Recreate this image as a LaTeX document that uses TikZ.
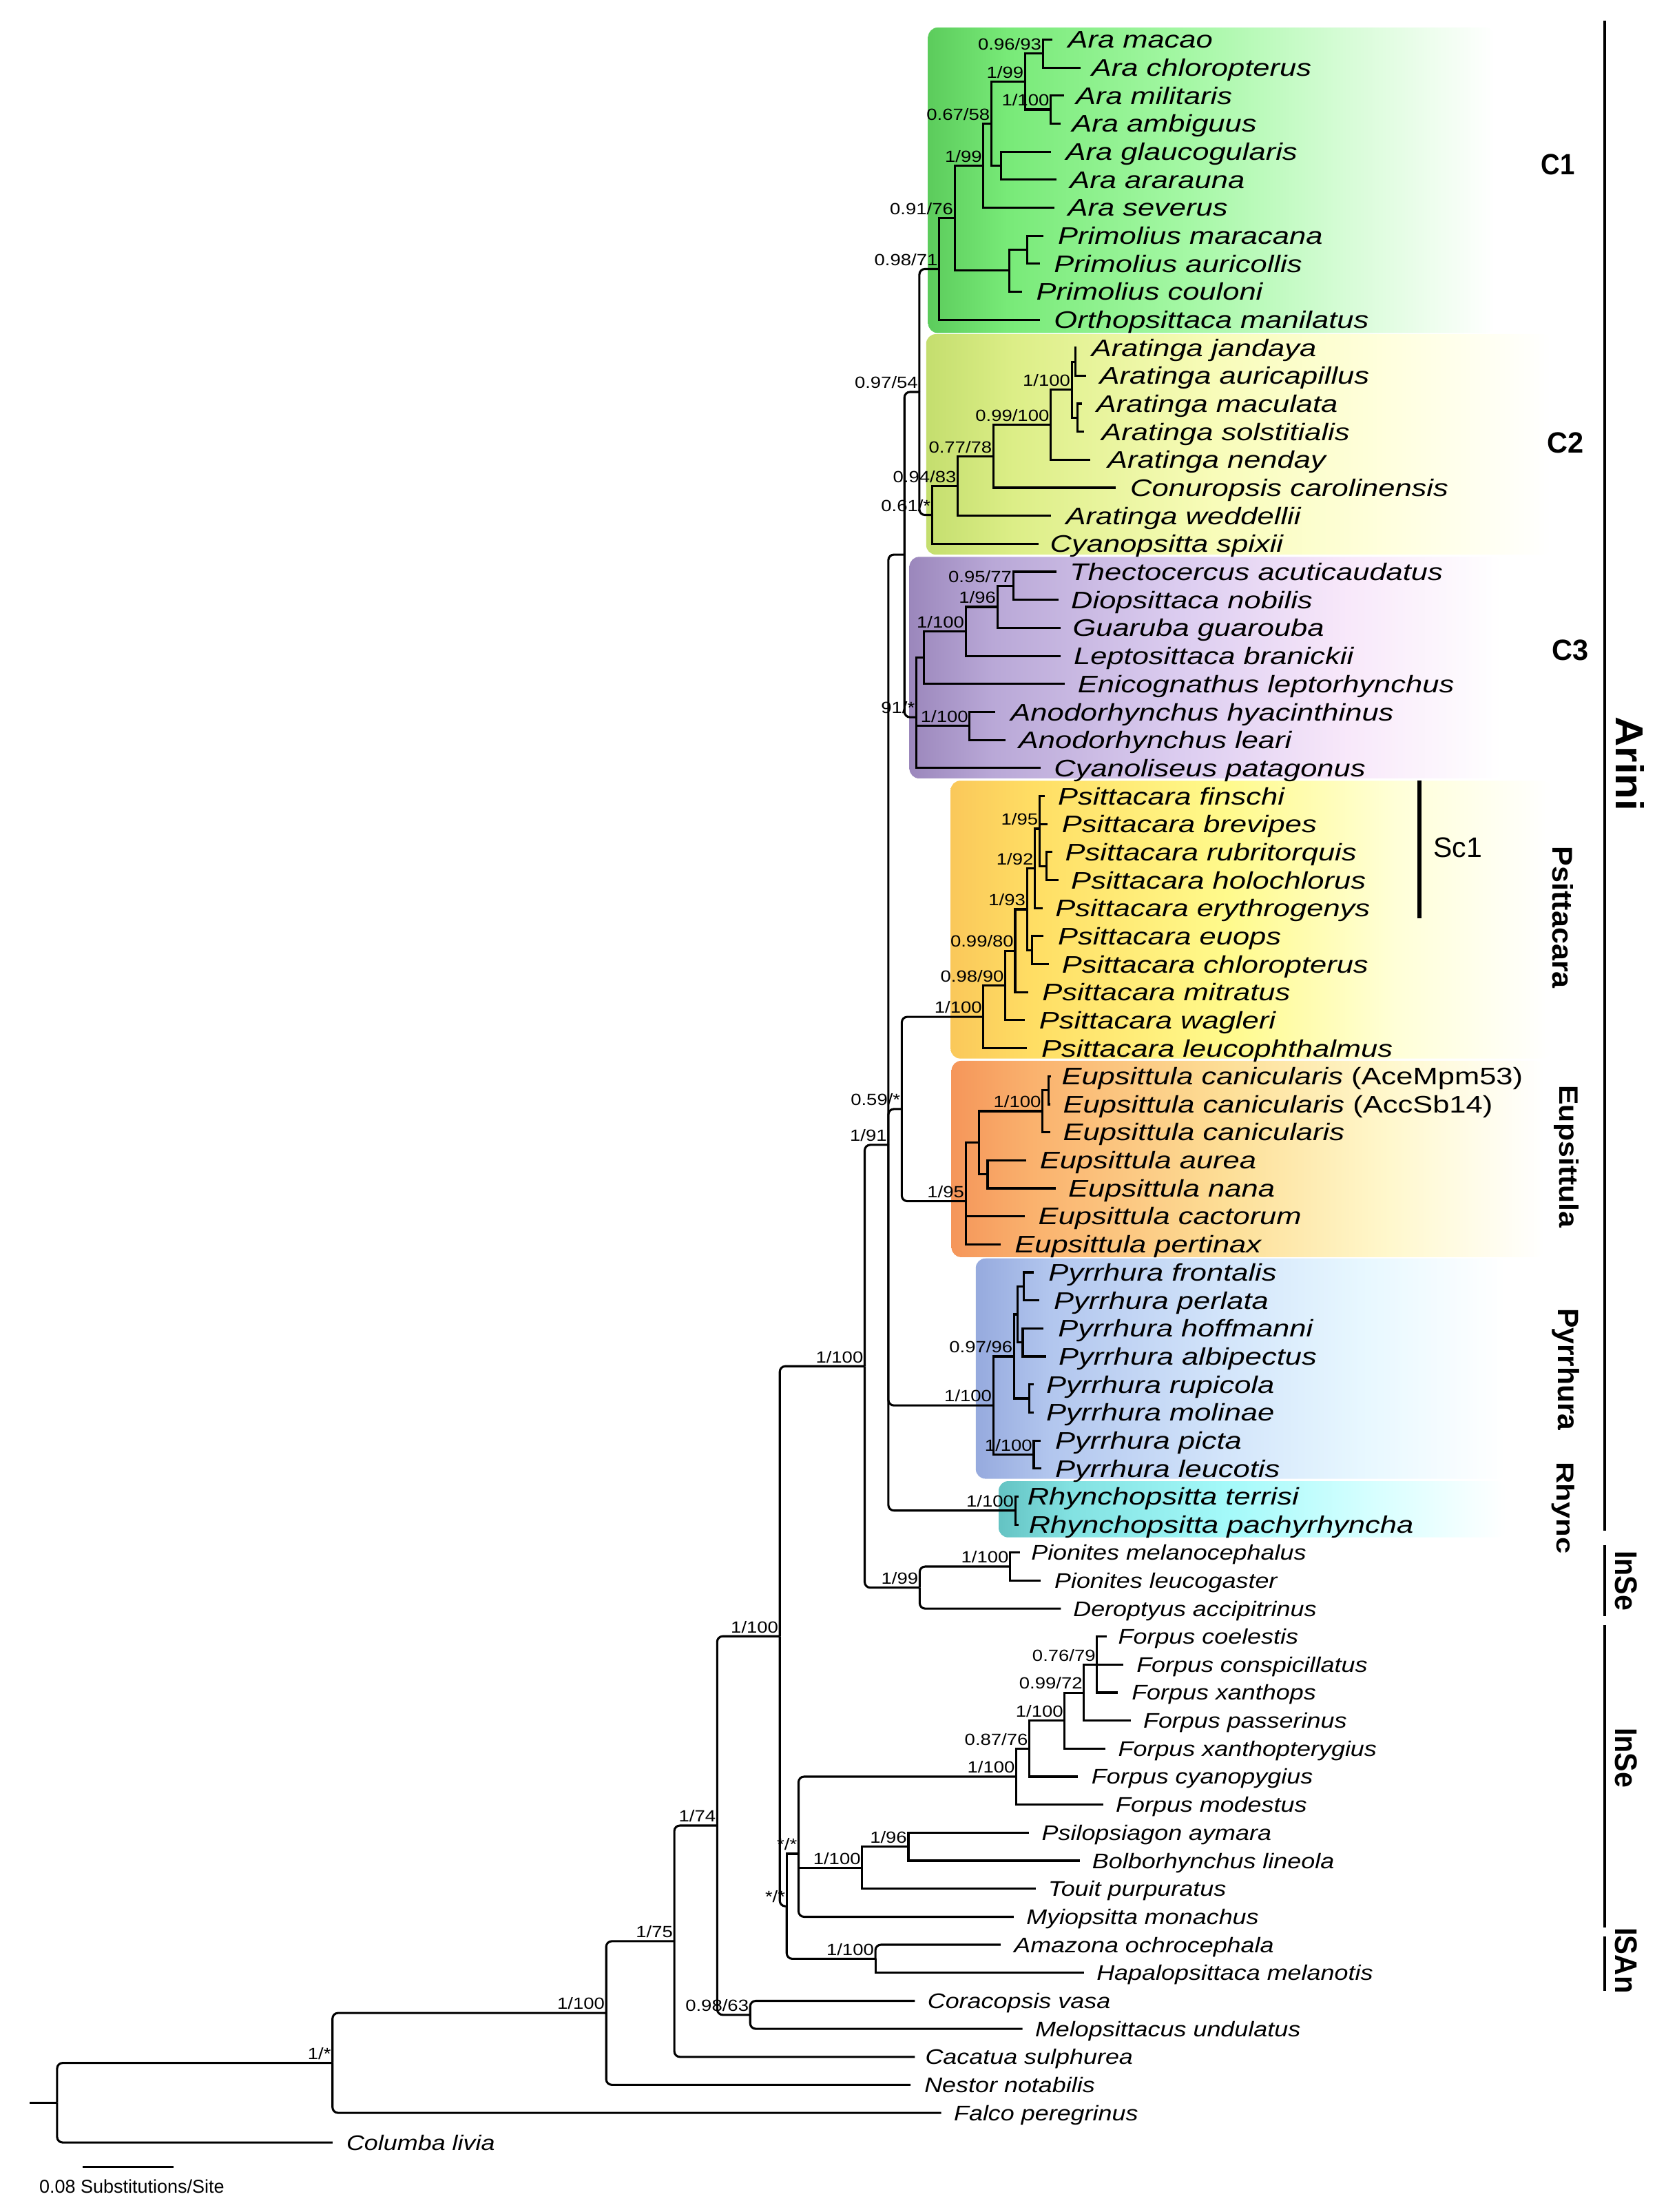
\documentclass[tikz,border=0pt]{standalone}
\usepackage{fontspec}
\usepackage{graphicx}
\newfontfamily\fA[FakeStretch=1.25]{Liberation Sans}
\newfontfamily\fB[FakeStretch=1.17]{Liberation Sans}
\newfontfamily\fC{Liberation Sans}
\definecolor{c1a}{RGB}{92,204,92}\definecolor{c1b}{RGB}{120,234,120}\definecolor{c1c}{RGB}{165,248,165}\definecolor{c1d}{RGB}{215,252,215}
\definecolor{c2a}{RGB}{196,222,110}\definecolor{c2b}{RGB}{220,238,135}\definecolor{c2c}{RGB}{248,252,185}\definecolor{c2d}{RGB}{255,255,222}
\definecolor{c3a}{RGB}{155,135,188}\definecolor{c3b}{RGB}{185,168,215}\definecolor{c3c}{RGB}{220,205,240}\definecolor{c3d}{RGB}{248,232,250}
\definecolor{c4a}{RGB}{250,200,90}\definecolor{c4b}{RGB}{255,222,100}\definecolor{c4c}{RGB}{255,250,140}\definecolor{c4d}{RGB}{255,255,215}
\definecolor{c5a}{RGB}{245,150,90}\definecolor{c5b}{RGB}{250,178,110}\definecolor{c5c}{RGB}{253,222,150}\definecolor{c5d}{RGB}{255,248,205}
\definecolor{c6a}{RGB}{150,170,222}\definecolor{c6b}{RGB}{178,198,238}\definecolor{c6c}{RGB}{210,228,250}\definecolor{c6d}{RGB}{232,248,255}
\definecolor{c7a}{RGB}{100,195,195}\definecolor{c7b}{RGB}{130,225,225}\definecolor{c7c}{RGB}{165,250,250}\definecolor{c7d}{RGB}{215,255,255}
\pgfdeclarehorizontalshading{sC1}{100bp}{color(0bp)=(c1a); color(25bp)=(c1a); color(32bp)=(c1b); color(48bp)=(c1c); color(62bp)=(c1d); color(75bp)=(white); color(100bp)=(white)}
\pgfdeclarehorizontalshading{sC2}{100bp}{color(0bp)=(c2a); color(25bp)=(c2a); color(32bp)=(c2b); color(48bp)=(c2c); color(62bp)=(c2d); color(75bp)=(white); color(100bp)=(white)}
\pgfdeclarehorizontalshading{sC3}{100bp}{color(0bp)=(c3a); color(25bp)=(c3a); color(32bp)=(c3b); color(48bp)=(c3c); color(62bp)=(c3d); color(75bp)=(white); color(100bp)=(white)}
\pgfdeclarehorizontalshading{sC4}{100bp}{color(0bp)=(c4a); color(25bp)=(c4a); color(32bp)=(c4b); color(48bp)=(c4c); color(62bp)=(c4d); color(75bp)=(white); color(100bp)=(white)}
\pgfdeclarehorizontalshading{sC5}{100bp}{color(0bp)=(c5a); color(25bp)=(c5a); color(32bp)=(c5b); color(48bp)=(c5c); color(62bp)=(c5d); color(75bp)=(white); color(100bp)=(white)}
\pgfdeclarehorizontalshading{sC6}{100bp}{color(0bp)=(c6a); color(25bp)=(c6a); color(32bp)=(c6b); color(48bp)=(c6c); color(62bp)=(c6d); color(75bp)=(white); color(100bp)=(white)}
\pgfdeclarehorizontalshading{sC7}{100bp}{color(0bp)=(c7a); color(25bp)=(c7a); color(32bp)=(c7b); color(48bp)=(c7c); color(62bp)=(c7d); color(75bp)=(white); color(100bp)=(white)}
\tikzset{
 brs/.style={line width=3.1pt},
 brc/.style={line width=3.1pt, rounded corners=8pt},
 tA/.style={anchor=west, inner sep=0pt, font=\fA\itshape\fontsize{34.8pt}{40pt}\selectfont, text height=24.9pt, text depth=0pt},
 tB/.style={anchor=west, inner sep=0pt, font=\fB\itshape\fontsize{30.7pt}{36pt}\selectfont, text height=22pt, text depth=0pt},
 sup/.style={anchor=south east, inner sep=0pt, xshift=-2pt, yshift=5pt, font=\fB\fontsize{23.5pt}{28pt}\selectfont, text height=16.8pt, text depth=0pt},
 grp/.style={inner sep=0pt, rotate=-90},
 bar/.style={line width=4.3pt},
 cbox/.style={rounded corners=14pt},
}
\newcommand\taxa[6]{\coordinate (t#1) at (#3,#2); \node[#5] (l#1) at (#4,#2) {#6};}
\newcommand\slab[2]{\node[sup] (L#1) at (#1) {#2};}
\newcommand\bra[2]{\draw[brs] (#1) |- (#2);}
\newcommand\brr[2]{\draw[brc] (#1) |- (#2);}
\begin{document}
\begin{tikzpicture}[x=2.0475pt,y=-2.0475pt]
\fill[white] (0,0) rectangle (1181,1568.3);
\useasboundingbox (0,0) rectangle (1181,1568.3);
% clade boxes
\shade[cbox,shading=sC1] (658.2,19.5) rectangle (1060,236.1);
\shade[cbox,shading=sC2] (656.8,236.9) rectangle (1100,393.2);
\shade[cbox,shading=sC3] (645.0,394.8) rectangle (1065,551.9);
\shade[cbox,shading=sC4] (674.2,553.5) rectangle (1100,750.5);
\shade[cbox,shading=sC5] (674.8,752.1) rectangle (1095,891.3);
\shade[cbox,shading=sC6] (692.0,892.2) rectangle (1068,1048.4);
\shade[cbox,shading=sC7] (708.2,1050.1) rectangle (1068,1090.0);
% taxa
\taxa{1}{28.0}{746.5}{757.2}{tA}{Ara macao}
\taxa{2}{47.9}{766.1}{774.0}{tA}{Ara chloropterus}
\taxa{3}{67.7}{754.4}{762.8}{tA}{Ara militaris}
\taxa{4}{87.6}{752.1}{760.0}{tA}{Ara ambiguus}
\taxa{5}{107.5}{745.1}{755.8}{tA}{Ara glaucogularis}
\taxa{6}{127.3}{749.3}{758.6}{tA}{Ara ararauna}
\taxa{7}{147.2}{747.9}{757.2}{tA}{Ara severus}
\taxa{8}{167.1}{740.1}{750.2}{tA}{Primolius maracana}
\taxa{9}{186.9}{737.3}{747.4}{tA}{Primolius auricollis}
\taxa{10}{206.8}{724.9}{734.8}{tA}{Primolius couloni}
\taxa{11}{226.7}{737.3}{747.4}{tA}{Orthopsittaca manilatus}
\taxa{12}{246.5}{763.3}{774.0}{tA}{Aratinga jandaya}
\taxa{13}{266.4}{770.3}{779.7}{tA}{Aratinga auricapillus}
\taxa{14}{286.2}{767.5}{777.4}{tA}{Aratinga maculata}
\taxa{15}{306.1}{768.9}{781.1}{tA}{Aratinga solstitialis}
\taxa{16}{326.0}{773.1}{785.3}{tA}{Aratinga nenday}
\taxa{17}{345.8}{791.4}{801.5}{tA}{Conuropsis carolinensis}
\taxa{18}{365.7}{745.1}{755.8}{tA}{Aratinga weddellii}
\taxa{19}{385.6}{736.7}{744.6}{tA}{Cyanopsitta spixii}
\taxa{20}{405.4}{749.3}{758.6}{tA}{Thectocercus acuticaudatus}
\taxa{21}{425.3}{750.7}{759.5}{tA}{Diopsittaca nobilis}
\taxa{22}{445.2}{752.1}{760.6}{tA}{Guaruba guarouba}
\taxa{23}{465.0}{752.1}{761.4}{tA}{Leptosittaca branickii}
\taxa{24}{484.9}{754.9}{764.2}{tA}{Enicognathus leptorhynchus}
\taxa{25}{504.8}{705.9}{716.6}{tA}{Anodorhynchus hyacinthinus}
\taxa{26}{524.6}{712.9}{722.2}{tA}{Anodorhynchus leari}
\taxa{27}{544.5}{738.1}{747.4}{tA}{Cyanoliseus patagonus}
\taxa{28}{564.4}{740.9}{750.2}{tA}{Psittacara finschi}
\taxa{29}{584.2}{743.1}{753.0}{tA}{Psittacara brevipes}
\taxa{30}{604.1}{746.5}{755.3}{tA}{Psittacara rubritorquis}
\taxa{31}{624.0}{750.7}{759.5}{tA}{Psittacara holochlorus}
\taxa{32}{643.8}{739.5}{748.3}{tA}{Psittacara erythrogenys}
\taxa{33}{663.7}{740.1}{750.2}{tA}{Psittacara euops}
\taxa{34}{683.6}{743.7}{753.0}{tA}{Psittacara chloropterus}
\taxa{35}{703.4}{729.1}{739.0}{tA}{Psittacara mitratus}
\taxa{36}{723.3}{726.9}{736.8}{tA}{Psittacara wagleri}
\taxa{37}{743.2}{728.3}{738.4}{tA}{Psittacara leucophthalmus}
\taxa{38}{763.0}{745.5}{752.8}{tA}{Eupsittula canicularis {\upshape(AceMpm53)}}
\taxa{39}{782.9}{744.6}{753.8}{tA}{Eupsittula canicularis {\upshape(AccSb14)}}
\taxa{40}{802.7}{744.6}{753.8}{tA}{Eupsittula canicularis}
\taxa{41}{822.6}{727.8}{737.3}{tA}{Eupsittula aurea}
\taxa{42}{842.5}{748.7}{757.5}{tA}{Eupsittula nana}
\taxa{43}{862.3}{726.9}{736.3}{tA}{Eupsittula cactorum}
\taxa{44}{882.2}{709.7}{719.5}{tA}{Eupsittula pertinax}
\taxa{45}{902.1}{733.1}{743.5}{tA}{Pyrrhura frontalis}
\taxa{46}{921.9}{737.1}{747.2}{tA}{Pyrrhura perlata}
\taxa{47}{941.8}{739.9}{750.3}{tA}{Pyrrhura hoffmanni}
\taxa{48}{961.7}{741.8}{750.7}{tA}{Pyrrhura albipectus}
\taxa{49}{981.5}{733.1}{741.9}{tA}{Pyrrhura rupicola}
\taxa{50}{1001.4}{733.1}{741.9}{tA}{Pyrrhura molinae}
\taxa{51}{1021.3}{737.8}{748.2}{tA}{Pyrrhura picta}
\taxa{52}{1041.1}{738.7}{748.2}{tA}{Pyrrhura leucotis}
\taxa{53}{1061.0}{722.2}{728.5}{tA}{Rhynchopsitta terrisi}
\taxa{54}{1080.9}{722.2}{729.5}{tA}{Rhynchopsitta pachyrhyncha}
\taxa{55}{1100.7}{723.2}{731.2}{tB}{Pionites melanocephalus}
\taxa{56}{1120.6}{737.9}{747.7}{tB}{Pionites leucogaster}
\taxa{57}{1140.5}{752.3}{761.0}{tB}{Deroptyus accipitrinus}
\taxa{58}{1160.3}{784.8}{792.9}{tB}{Forpus coelestis}
\taxa{59}{1180.2}{796.8}{805.9}{tB}{Forpus conspicillatus}
\taxa{60}{1200.0}{792.7}{802.5}{tB}{Forpus xanthops}
\taxa{61}{1219.9}{802.0}{810.7}{tB}{Forpus passerinus}
\taxa{62}{1239.8}{783.8}{792.9}{tB}{Forpus xanthopterygius}
\taxa{63}{1259.6}{764.3}{774.0}{tB}{Forpus cyanopygius}
\taxa{64}{1279.5}{782.4}{791.2}{tB}{Forpus modestus}
\taxa{65}{1299.4}{729.8}{738.7}{tB}{Psilopsiagon aymara}
\taxa{66}{1319.2}{765.6}{774.5}{tB}{Bolborhynchus lineola}
\taxa{67}{1339.1}{734.5}{743.3}{tB}{Touit purpuratus}
\taxa{68}{1359.0}{718.9}{727.8}{tB}{Myiopsitta monachus}
\taxa{69}{1378.8}{709.6}{719.0}{tB}{Amazona ochrocephala}
\taxa{70}{1398.7}{768.8}{777.6}{tB}{Hapalopsittaca melanotis}
\taxa{71}{1418.6}{648.8}{657.7}{tB}{Coracopsis vasa}
\taxa{72}{1438.4}{725.1}{734.0}{tB}{Melopsittacus undulatus}
\taxa{73}{1458.3}{648.8}{656.1}{tB}{Cacatua sulphurea}
\taxa{74}{1478.1}{645.7}{655.5}{tB}{Nestor notabilis}
\taxa{75}{1498.0}{667.5}{676.4}{tB}{Falco peregrinus}
\taxa{76}{1519.0}{235.8}{245.6}{tB}{Columba livia}
% internal nodes
\coordinate (a1) at (739.5,37.95);
\coordinate (a2) at (745.1,77.65);
\coordinate (a3) at (726.9,57.8);
\coordinate (a4) at (710.0,117.4);
\coordinate (a5) at (703.0,87.6);
\coordinate (a6) at (697.4,117.4);
\coordinate (a7) at (728.3,177.0);
\coordinate (a8) at (715.7,191.9);
\coordinate (a9) at (677.0,154.65);
\coordinate (a10) at (666.0,190.7);
\coordinate (b1) at (762.8,256.45);
\coordinate (b2) at (764.2,296.15);
\coordinate (b3) at (760.0,276.3);
\coordinate (b4) at (745.1,301.15);
\coordinate (b5) at (704.5,323.5);
\coordinate (b6) at (679.2,344.6);
\coordinate (b7) at (661.0,365.1);
\coordinate (bb1) at (652.0,277.9);
\coordinate (c1) at (718.5,415.35);
\coordinate (c2) at (707.3,430.3);
\coordinate (c3) at (684.8,447.65);
\coordinate (c4) at (655.4,466.3);
\coordinate (c5) at (687.6,514.7);
\coordinate (c6) at (649.8,508.5);
\coordinate (bb2) at (641.4,393.2);
\coordinate (p1) at (742.3,614.05);
\coordinate (p2) at (737.2,587.55);
\coordinate (p3) at (733.9,615.7);
\coordinate (p4) at (731.9,673.65);
\coordinate (p5) at (728.3,644.7);
\coordinate (p6) at (719.9,674.05);
\coordinate (p7) at (712.9,698.7);
\coordinate (p8) at (697.4,720.95);
\coordinate (e1) at (743.4,772.95);
\coordinate (e2) at (739.3,787.8);
\coordinate (e3) at (700.4,832.55);
\coordinate (e4) at (694.2,810.2);
\coordinate (e5) at (684.8,851.6);
\coordinate (G) at (639.5,786.3);
\coordinate (r1) at (726.2,912.0);
\coordinate (r2) at (725.3,951.75);
\coordinate (r3) at (721.6,931.9);
\coordinate (r4) at (730.0,991.45);
\coordinate (r5) at (719.1,961.7);
\coordinate (r6) at (733.1,1031.2);
\coordinate (r7) at (704.4,996.45);
\coordinate (q1) at (720.0,1070.95);
\coordinate (H) at (630.0,811.7);
\coordinate (s1) at (716.3,1110.65);
\coordinate (s2) at (652.2,1125.6);
\coordinate (I) at (613.2,968.65);
\coordinate (f1) at (778.0,1180.2);
\coordinate (f2) at (768.7,1200.05);
\coordinate (f3) at (755.0,1219.9);
\coordinate (f4) at (730.0,1239.75);
\coordinate (f5) at (720.7,1259.6);
\coordinate (g1) at (644.2,1309.3);
\coordinate (g2) at (611.4,1324.2);
\coordinate (K) at (566.3,1314.3);
\coordinate (h1) at (620.8,1388.75);
\coordinate (Lq) at (557.9,1351.5);
\coordinate (J) at (553.0,1160.1);
\coordinate (M) at (532.0,1428.5);
\coordinate (N) at (508.6,1294.3);
\coordinate (U) at (478.2,1376.3);
\coordinate (T) at (429.9,1427.2);
\coordinate (S) at (235.8,1462.6);
\coordinate (R) at (40.5,1490.8);
\coordinate (R0) at (21.2,1490.8);
% branches C1
\bra{a1}{t1}\bra{a1}{t2}\bra{a2}{t3}\bra{a2}{t4}
\bra{a3}{a1}\bra{a3}{a2}\bra{a4}{t5}\bra{a4}{t6}
\bra{a5}{a3}\bra{a5}{a4}\bra{a6}{a5}\bra{a6}{t7}
\bra{a7}{t8}\bra{a7}{t9}\bra{a8}{a7}\bra{a8}{t10}
\bra{a9}{a6}\bra{a9}{a8}\bra{a10}{a9}\bra{a10}{t11}
% C2
\bra{b1}{t12}\bra{b1}{t13}\bra{b2}{t14}\bra{b2}{t15}
\bra{b3}{b1}\bra{b3}{b2}\bra{b4}{b3}\bra{b4}{t16}
\bra{b5}{b4}\bra{b5}{t17}\bra{b6}{b5}\bra{b6}{t18}
\bra{b7}{b6}\bra{b7}{t19}
\brr{bb1}{a10}\brr{bb1}{b7}
% C3
\bra{c1}{t20}\bra{c1}{t21}\bra{c2}{c1}\bra{c2}{t22}
\bra{c3}{c2}\bra{c3}{t23}\bra{c4}{c3}\bra{c4}{t24}
\bra{c5}{t25}\bra{c5}{t26}
\bra{c6}{c4}\bra{c6}{c5}\bra{c6}{t27}
\brr{bb2}{bb1}\brr{bb2}{c6}
% Psittacara
\bra{p1}{t30}\bra{p1}{t31}\bra{p2}{t28}\bra{p2}{t29}\bra{p2}{p1}
\bra{p3}{p2}\bra{p3}{t32}\bra{p4}{t33}\bra{p4}{t34}
\bra{p5}{p3}\bra{p5}{p4}\bra{p6}{p5}\bra{p6}{t35}
\bra{p7}{p6}\bra{p7}{t36}\bra{p8}{p7}\bra{p8}{t37}
% Eupsittula
\bra{e1}{t38}\bra{e1}{t39}\bra{e2}{e1}\bra{e2}{t40}
\bra{e3}{t41}\bra{e3}{t42}\bra{e4}{e2}\bra{e4}{e3}
\bra{e5}{e4}\bra{e5}{t43}\bra{e5}{t44}
\brr{G}{p8}\brr{G}{e5}
% Pyrrhura
\bra{r1}{t45}\bra{r1}{t46}\bra{r2}{t47}\bra{r2}{t48}
\bra{r3}{r1}\bra{r3}{r2}\bra{r4}{t49}\bra{r4}{t50}
\bra{r5}{r3}\bra{r5}{r4}\bra{r6}{t51}\bra{r6}{t52}
\bra{r7}{r5}\bra{r7}{r6}
\bra{q1}{t53}\bra{q1}{t54}
\brr{H}{bb2}\brr{H}{G}\brr{H}{r7}\brr{H}{q1}
% Pionites
\bra{s1}{t55}\bra{s1}{t56}\brr{s2}{s1}\brr{s2}{t57}
\brr{I}{H}\brr{I}{s2}
% Forpus and others
\bra{f1}{t58}\bra{f1}{t59}\bra{f1}{t60}
\bra{f2}{f1}\bra{f2}{t61}\bra{f3}{f2}\bra{f3}{t62}
\bra{f4}{f3}\bra{f4}{t63}\bra{f5}{f4}\bra{f5}{t64}
\bra{g1}{t65}\bra{g1}{t66}\bra{g2}{g1}\bra{g2}{t67}
\brr{K}{f5}\bra{K}{g2}\brr{K}{t68}
\brr{h1}{t69}\bra{h1}{t70}
\bra{Lq}{K}\brr{Lq}{h1}
\brr{J}{I}\brr{J}{Lq}
\brr{M}{t71}\brr{M}{t72}
\brr{N}{J}\brr{N}{M}
\brr{U}{N}\brr{U}{t73}
\brr{T}{U}\brr{T}{t74}
\brr{S}{T}\brr{S}{t75}
\brr{R}{S}\brr{R}{t76}
\draw[brs] (R0) -- (R);
% support labels
\slab{a1}{0.96/93}\slab{a2}{1/100}\slab{a3}{1/99}\slab{a5}{0.67/58}
\slab{a6}{1/99}\slab{a9}{0.91/76}\slab{a10}{0.98/71}
\slab{b3}{1/100}\slab{b4}{0.99/100}\slab{b5}{0.77/78}\slab{b6}{0.94/83}
\slab{b7}{0.61/*}\slab{bb1}{0.97/54}
\slab{c1}{0.95/77}\slab{c2}{1/96}\slab{c3}{1/100}\slab{c5}{1/100}\slab{c6}{91/*}
\slab{p2}{1/95}\slab{p3}{1/92}\slab{p5}{1/93}\slab{p6}{0.99/80}\slab{p7}{0.98/90}\slab{p8}{1/100}
\slab{e2}{1/100}\slab{e5}{1/95}\slab{G}{0.59/*}\slab{H}{1/91}
\slab{r5}{0.97/96}\slab{r6}{1/100}\slab{r7}{1/100}\slab{q1}{1/100}
\slab{s1}{1/100}\slab{s2}{1/99}\slab{I}{1/100}
\slab{f1}{0.76/79}\slab{f2}{0.99/72}\slab{f3}{1/100}\slab{f4}{0.87/76}\slab{f5}{1/100}
\slab{g1}{1/96}\slab{g2}{1/100}\slab{K}{*/*}\slab{h1}{1/100}\slab{Lq}{*/*}
\slab{J}{1/100}\slab{M}{0.98/63}\slab{N}{1/74}\slab{U}{1/75}\slab{T}{1/100}\slab{S}{1/*}
% scale bar
\coordinate (sb1) at (58.6,1536.4);
\coordinate (sb2) at (123,1536.4);
\draw[brs] (sb1) -- (sb2);
\node[inner sep=0pt, font=\fC\fontsize{27pt}{31pt}\selectfont] (sbt) at (93.5,1550.2) {0.08 Substitutions/Site};
% Sc1
\coordinate (sc1a) at (1006.4,553.5);
\coordinate (sc1b) at (1006.4,651.2);
\draw[line width=6pt] (sc1a) -- (sc1b);
\node[anchor=west, inner sep=0pt, font=\fC\fontsize{41pt}{48pt}\selectfont] (sc1) at (1016.5,600.7) {Sc1};
% clade names
\node[inner sep=0pt] (nC1) at (1105.0,116.5) {\resizebox{49pt}{29.7pt}{\fC\bfseries C1}};
\node[inner sep=0pt] (nC2) at (1110.3,313.8) {\resizebox{53pt}{29.7pt}{\fC\bfseries C2}};
\node[inner sep=0pt] (nC3) at (1113.6,460.8) {\resizebox{53pt}{29.7pt}{\fC\bfseries C3}};
\node[grp] (nPs) at (1108.5,650.5) {\resizebox{206pt}{30pt}{\fC\bfseries Psittacara}};
\node[grp] (nEu) at (1110.8,820) {\resizebox{207pt}{28pt}{\fC\bfseries Eupsittula}};
\node[grp] (nPy) at (1110.3,970.8) {\resizebox{177pt}{30.9pt}{\fC\bfseries Pyrrhura}};
\node[grp] (nRh) at (1108.6,1069.1) {\resizebox{132.7pt}{25.8pt}{\fC\bfseries Rhync}};
\node[grp] (nAr) at (1156.3,541.5) {\resizebox{137pt}{41pt}{\fC\bfseries Arini}};
\node[grp] (nI1) at (1153,1120.7) {\resizebox{86.8pt}{31.7pt}{\fC\bfseries InSe}};
\node[grp] (nI2) at (1153,1246.2) {\resizebox{86.8pt}{31.7pt}{\fC\bfseries InSe}};
\node[grp] (nIS) at (1153,1390.0) {\resizebox{95.2pt}{31.7pt}{\fC\bfseries ISAn}};
% right bars
\coordinate (ba1) at (1138,14.8);\coordinate (ba2) at (1138,1085.3);
\coordinate (bi1) at (1138,1095.5);\coordinate (bi2) at (1138,1146);
\coordinate (bj1) at (1138,1152.2);\coordinate (bj2) at (1138,1366.8);
\coordinate (bk1) at (1138,1372.9);\coordinate (bk2) at (1138,1411.3);
\draw[bar] (ba1) -- (ba2);
\draw[bar] (bi1) -- (bi2);
\draw[bar] (bj1) -- (bj2);
\draw[bar] (bk1) -- (bk2);
\end{tikzpicture}
\end{document}
